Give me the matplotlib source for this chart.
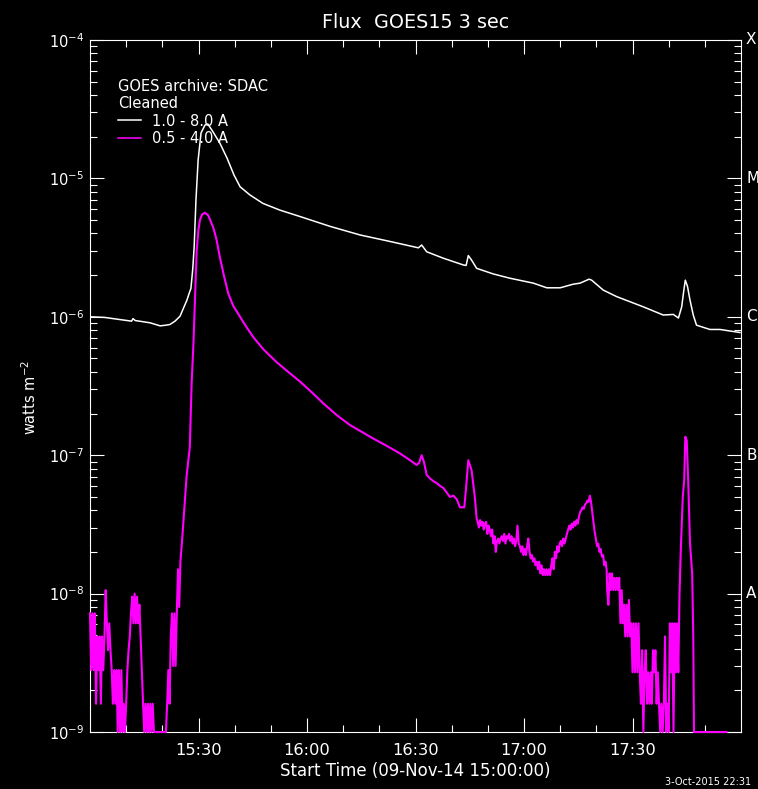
import numpy as np
import matplotlib
matplotlib.use("Agg")
import matplotlib.pyplot as plt
from matplotlib.ticker import FixedLocator, LogLocator, NullFormatter, FixedFormatter, FuncFormatter
from matplotlib.transforms import blended_transform_factory

# ---------------- data (time in minutes after 15:00 UT, flux in W m^-2) ----------------
long_pts = [  # 1.0 - 8.0 A channel
    (0, 1.00e-6), (4, 0.99e-6), (8.3, 0.955e-6), (11.5, 0.93e-6), (11.9, 0.97e-6),
    (12.5, 0.94e-6), (16.6, 0.905e-6), (19.4, 0.86e-6), (21.0, 0.87e-6), (22.1, 0.88e-6),
    (23.5, 0.93e-6), (24.9, 1.01e-6), (26.0, 1.18e-6), (26.8, 1.32e-6), (27.5, 1.50e-6),
    (27.9, 1.6e-6), (28.4, 2.2e-6), (28.8, 3.2e-6), (29.3, 7.0e-6), (29.9, 1.36e-5),
    (30.7, 2.13e-5), (31.8, 2.43e-5), (32.6, 2.47e-5), (34.0, 2.17e-5), (35.9, 1.80e-5),
    (37.9, 1.40e-5), (39.8, 1.06e-5), (41.5, 8.7e-6), (44.2, 7.6e-6), (47.8, 6.6e-6),
    (52.5, 5.9e-6), (58.1, 5.3e-6), (66.4, 4.5e-6), (74.7, 3.9e-6), (83.0, 3.5e-6),
    (88.5, 3.25e-6), (90.8, 3.15e-6), (91.7, 3.3e-6), (93.1, 2.95e-6), (97.7, 2.65e-6),
    (103.2, 2.37e-6), (104.0, 2.35e-6), (104.6, 2.77e-6), (105.5, 2.57e-6), (106.9, 2.24e-6),
    (111.5, 2.04e-6), (116.1, 1.90e-6), (122.6, 1.75e-6), (126.3, 1.62e-6), (130.0, 1.62e-6),
    (133.6, 1.72e-6), (135.5, 1.75e-6), (138.0, 1.87e-6), (138.7, 1.84e-6), (141.9, 1.56e-6),
    (145.6, 1.40e-6), (153.0, 1.18e-6), (158.5, 1.03e-6), (161.3, 1.04e-6), (162.7, 0.98e-6),
    (163.6, 1.18e-6), (164.2, 1.56e-6), (164.6, 1.84e-6), (165.2, 1.66e-6), (165.9, 1.32e-6),
    (166.8, 1.03e-6), (167.7, 0.87e-6), (171.4, 0.81e-6), (174.2, 0.81e-6), (179.7, 0.77e-6),
]

# 0.5 - 4.0 A channel: noisy stretches sampled every 20 s (values in units of 1e-9 / 1e-8)
cadence_min = 1.0 / 3.0
short_pre_start = 0.0
short_pre_e9 = [
    7.2, 2.8, 7.2, 2.8, 7.2, 1.6, 4.9, 2.8, 4.9, 1.6,
    4.9, 2.8, 4.9, 10.6, 6.1, 3.9, 6.1, 3.9, 2.8, 1.6,
    2.8, 1.6, 2.8, 1.0, 2.8, 1.0, 2.8, 1.0, 1.6, 1.0,
    1.6, 2.8, 3.9, 4.9, 7.2, 9.5, 6.1, 10.0, 6.1, 9.5,
    6.1, 8.3, 4.9, 2.8, 1.6, 1.0, 1.6, 1.0, 1.6, 1.0,
    1.6, 1.0, 1.6, 1.0, 1.0, 1.0, 1.0, 1.0, 1.0, 1.0,
    1.0, 1.0, 1.0, 1.0, 1.6, 2.8, 1.6, 4.9, 7.2, 3.0,
    7.2, 3.0, 7.2, 15.0, 8.0, 17.0,
]
short_rise_pts = [
    (25.5, 2.5e-8), (26.3, 4.9e-8), (26.7, 7.0e-8), (27.6, 1.15e-7), (28.1, 3.3e-7),
    (28.6, 6.4e-7), (29.0, 1.3e-6), (29.5, 3.0e-6), (30.0, 4.3e-6), (30.4, 5.0e-6),
    (31.0, 5.5e-6), (31.8, 5.65e-6), (32.7, 5.4e-6), (34.1, 4.4e-6), (35.0, 3.6e-6),
    (35.9, 2.7e-6), (37.0, 2.0e-6), (38.2, 1.48e-6), (39.6, 1.2e-6), (41.5, 1.0e-6),
    (43.3, 0.84e-6), (45.2, 0.71e-6), (48.0, 0.58e-6), (51.6, 0.47e-6), (54.8, 0.40e-6),
    (58.1, 0.34e-6), (61.3, 0.285e-6), (64.5, 0.237e-6), (68.2, 0.195e-6), (71.9, 0.165e-6),
    (75.0, 0.148e-6), (78.3, 0.132e-6), (82.0, 0.117e-6), (85.7, 0.103e-6), (88.5, 0.092e-6),
    (90.3, 0.085e-6), (91.0, 0.088e-6), (91.7, 0.10e-6), (92.3, 0.09e-6), (93.1, 0.072e-6),
    (94.0, 0.068e-6), (94.9, 0.065e-6), (95.8, 0.063e-6), (96.8, 0.06e-6), (97.7, 0.058e-6),
    (99.0, 0.052e-6), (99.5, 0.050e-6), (100.5, 0.051e-6), (101.4, 0.048e-6), (102.3, 0.042e-6),
    (103.5, 0.042e-6), (104.0, 0.059e-6), (104.6, 0.092e-6), (105.5, 0.078e-6), (106.4, 0.050e-6),
    (106.9, 0.035e-6),
]
short_mid_start = 107.2
short_mid_e8 = [
    3.3, 3.0, 3.4, 3.1, 3.3, 2.9, 3.2, 3.3, 2.7, 3.1,
    2.9, 2.6, 2.9, 2.3, 2.6, 2.0, 2.4, 2.5, 2.3, 2.5,
    2.6, 2.4, 2.7, 2.3, 2.6, 2.5, 2.7, 2.4, 2.6, 2.3,
    2.5, 2.2, 2.4, 3.1, 2.3, 2.2, 2.0, 2.2, 1.9, 2.1,
    1.9, 2.2, 2.5, 2.0, 1.8, 1.9, 1.7, 1.8, 1.6, 1.7,
    1.5, 1.7, 1.4, 1.6, 1.36, 1.5, 1.36, 1.5, 1.36, 1.5,
    1.36, 1.6, 1.8, 1.5, 2.0, 1.8, 2.2, 2.0, 2.3, 2.4,
    2.2, 2.5, 2.3, 2.5, 2.7, 2.9, 3.1, 2.9, 3.2, 3.0,
    3.3, 3.1, 3.4, 3.2, 3.6, 3.9, 4.0, 4.2, 4.1, 4.4,
    4.5, 4.7, 4.6, 5.1, 4.6, 3.9, 3.3, 2.8, 2.5, 2.2,
    2.3, 2.0, 2.1, 1.85, 1.9, 1.6, 1.7, 1.48,
]
short_post_start = 143.0
short_post_e9 = [
    10.6, 8.3, 14.0, 10.6, 14.0, 10.6, 13.0, 10.6, 13.0, 10.6,
    13.0, 6.1, 10.6, 6.1, 8.3, 4.9, 8.3, 4.9, 9.0, 4.9,
    6.1, 2.7, 6.1, 2.7, 6.1, 2.7, 6.1, 2.7, 1.6, 3.9,
    1.0, 2.7, 3.9, 1.6, 2.7, 1.6, 2.7, 1.6, 3.9, 2.7,
    3.9, 1.6, 2.7, 1.6, 1.0, 1.6, 1.0, 1.6, 4.9, 1.0,
    1.6, 1.0, 6.1, 2.7, 6.1, 1.0, 6.1, 2.7, 6.1, 2.7,
    10.0, 20.0,
]
short_end_pts = [
    (163.9, 5.0e-8), (164.3, 6.6e-8), (164.6, 1.36e-7), (165.0, 1.28e-7), (165.4, 6.6e-8),
    (165.9, 2.3e-8), (166.5, 1.4e-8), (166.8, 4.9e-9), (167.0, 1.0e-9), (176.0, 1.0e-9),
]

xtick_minutes = [30, 60, 90, 120, 150]
xtick_labels = ["15:30", "16:00", "16:30", "17:00", "17:30"]
class_levels = [1e-8, 1e-7, 1e-6, 1e-5, 1e-4]
class_labels = ["A", "B", "C", "M", "X"]

# ---------------- assemble series ----------------
lt, lf = np.array(long_pts).T

def regular(start, vals, scale):
    v = np.array(vals) * scale
    t = start + np.arange(len(v)) * cadence_min
    return t, v

t1, f1 = regular(short_pre_start, short_pre_e9, 1e-9)
t2, f2 = np.array(short_rise_pts).T
t3, f3 = regular(short_mid_start, short_mid_e8, 1e-8)
t4, f4 = regular(short_post_start, short_post_e9, 1e-9)
t5, f5 = np.array(short_end_pts).T
st = np.concatenate([t1, t2, t3, t4, t5])
sf = np.concatenate([f1, f2, f3, f4, f5])

# ---------------- figure ----------------
W, H = 758, 789
fig = plt.figure(figsize=(W / 100, H / 100), dpi=100, facecolor="black")
ax = fig.add_axes([90 / W, 1 - 732 / H, 651 / W, 692 / H])
ax.set_facecolor("black")
ax.set_yscale("log")
ax.set_xlim(0, 180)
ax.set_ylim(1e-9, 1e-4)

l1, = ax.plot(lt, lf, color="white", lw=1.1, zorder=3)
l2, = ax.plot(st, sf, color="#ff00ff", lw=1.5, zorder=3, clip_on=False)

for s in ax.spines.values():
    s.set_color("white")
    s.set_linewidth(0.8)

ax.xaxis.set_major_locator(FixedLocator(xtick_minutes))
ax.xaxis.set_major_formatter(FixedFormatter(xtick_labels))
ax.xaxis.set_minor_locator(FixedLocator(np.arange(10, 180, 10)))
ax.yaxis.set_major_locator(LogLocator(base=10, numticks=10))
ax.yaxis.set_minor_locator(LogLocator(base=10, subs=np.arange(2, 10), numticks=10))
ax.yaxis.set_minor_formatter(NullFormatter())
ax.yaxis.set_major_formatter(FuncFormatter(lambda v, p: r"$10^{%d}$" % round(np.log10(v))))

ax.tick_params(which="both", direction="in", top=True, right=True,
               color="white", labelcolor="white", width=0.8)
ax.tick_params(which="major", length=10)
ax.tick_params(which="minor", length=5)
ax.tick_params(axis="x", which="major", labelsize=11.7, pad=8)
ax.tick_params(axis="y", which="major", labelsize=10.5, pad=4)

tr = blended_transform_factory(ax.transAxes, ax.transData)
for lev, lab in zip(class_levels, class_labels):
    ax.text(1.0 + 5 / 651, lev, lab, transform=tr, ha="left", va="center",
            fontsize=11, color="white", clip_on=False)

leg = ax.legend([l1, l2], ["1.0 - 8.0 A", "0.5 - 4.0 A"],
                title="GOES archive: SDAC\nCleaned", loc="upper left",
                bbox_to_anchor=((118 - 90) / 651, (732 - 79) / 692),
                frameon=False, fontsize=10.5, title_fontsize=10.5, alignment="left",
                handlelength=1.6, handletextpad=0.7, labelspacing=0.15,
                borderpad=0, borderaxespad=0)
for t in leg.get_texts():
    t.set_color("white")
leg.get_title().set_color("white")
for h in leg.legend_handles:
    h.set_linewidth(1.1)

fig.text(415.5 / W, 1 - 23 / H, "Flux  GOES15 3 sec", ha="center", va="center",
         fontsize=13.8, color="white")
fig.text(415.5 / W, 1 - 771 / H, "Start Time (09-Nov-14 15:00:00)", ha="center",
         va="center", fontsize=12, color="white")
fig.text(30 / W, 1 - 397 / H, "watts m$^{-2}$", rotation=90, ha="center", va="center",
         fontsize=10.5, color="white")
fig.text(665 / W, 1 - 782 / H, "3-Oct-2015 22:31", ha="left", va="center",
         fontsize=7, color="white")

fig.savefig("out.png", dpi=100, facecolor="black")
